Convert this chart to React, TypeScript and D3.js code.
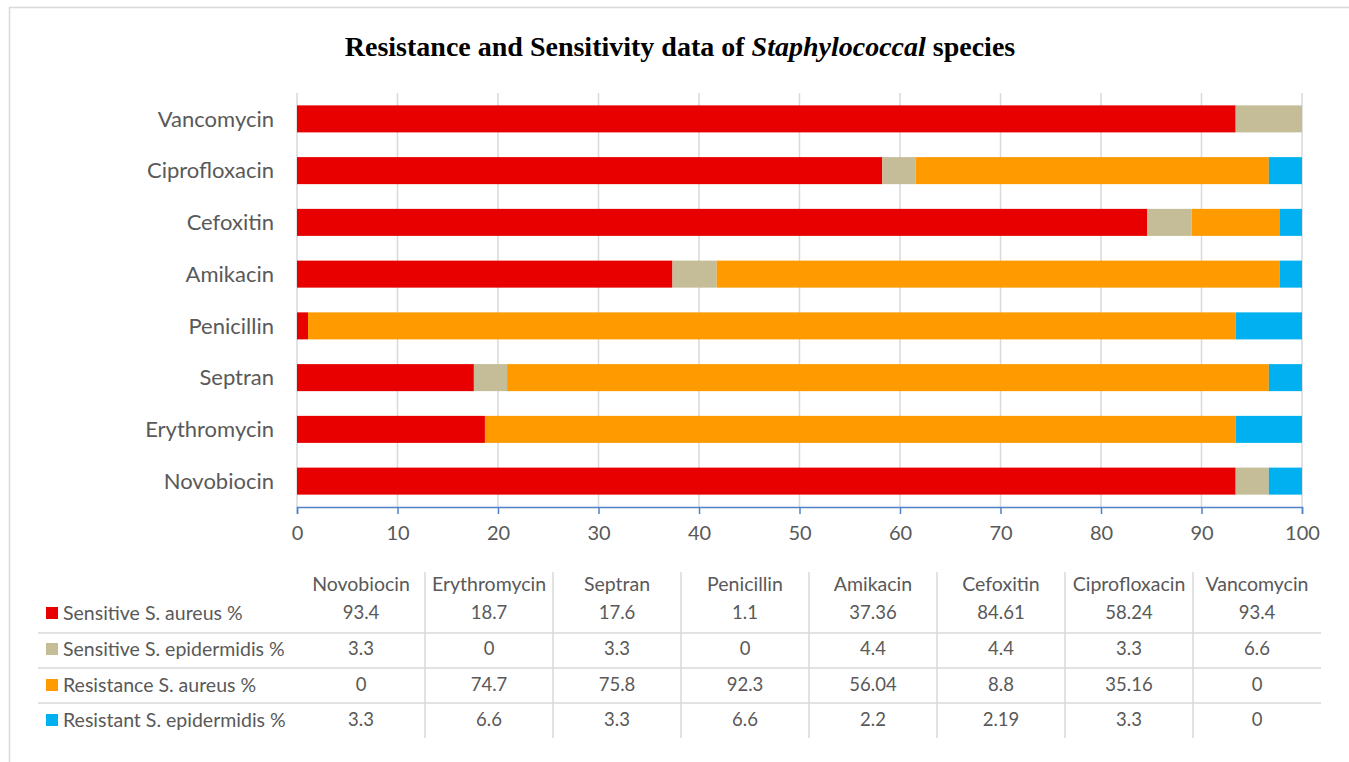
import React, { useEffect, useRef } from "react";
import * as d3 from "d3";

// drug names, in table order (bottom bar first)
const drugs = [
  "Novobiocin",
  "Erythromycin",
  "Septran",
  "Penicillin",
  "Amikacin",
  "Cefoxitin",
  "Ciprofloxacin",
  "Vancomycin",
];

const seriesNames = [
  "Sensitive S. aureus %",
  "Sensitive S. epidermidis %",
  "Resistance S. aureus %",
  "Resistant S. epidermidis %",
];
const seriesColors = ["#E80000", "#C4BD97", "#FF9A00", "#00B0F0"];

const sensitiveAureus = [93.4, 18.7, 17.6, 1.1, 37.36, 84.61, 58.24, 93.4];
const sensitiveEpidermidis = [3.3, 0, 3.3, 0, 4.4, 4.4, 3.3, 6.6];
const resistanceAureus = [0, 74.7, 75.8, 92.3, 56.04, 8.8, 35.16, 0];
const resistantEpidermidis = [3.3, 6.6, 3.3, 6.6, 2.2, 2.19, 3.3, 0];

const xTicks = [0, 10, 20, 30, 40, 50, 60, 70, 80, 90, 100];

const W = 1349;
const H = 762;
const textColor = "#595959";
const gridColor = "#D9D9D9";
const axisColor = "#4F81C7";
const font = "Lato, 'Open Sans', sans-serif";

export default function App() {
  const svgRef = useRef<SVGSVGElement>(null);

  useEffect(() => {
    const svg = d3.select(svgRef.current);
    svg.selectAll("*").remove();

    const values = [sensitiveAureus, sensitiveEpidermidis, resistanceAureus, resistantEpidermidis];
    const rows = drugs.map((d, i) => {
      const r: any = { drug: d };
      seriesNames.forEach((s, j) => (r[s] = values[j][i]));
      return r;
    });

    const x = d3.scaleLinear().domain([0, 100]).range([297, 1302]);
    const y = d3
      .scaleBand()
      .domain(drugs.slice().reverse())
      .range([93, 507])
      .paddingInner(0.478)
      .paddingOuter(0.239);

    // chart frame (top and left edges visible)
    svg
      .append("rect")
      .attr("x", 9.5)
      .attr("y", 7.5)
      .attr("width", W + 20)
      .attr("height", H + 20)
      .attr("fill", "white")
      .attr("stroke", "#D9D9D9")
      .attr("stroke-width", 1.5);

    // title
    const title = svg
      .append("text")
      .attr("x", 680)
      .attr("y", 56)
      .attr("text-anchor", "middle")
      .attr("font-family", "'Liberation Serif', 'Times New Roman', serif")
      .attr("font-weight", "bold")
      .attr("font-size", 28)
      .attr("fill", "#000");
    title.append("tspan").text("Resistance and Sensitivity data of ");
    title.append("tspan").attr("font-style", "italic").text("Staphylococcal");
    title.append("tspan").text(" species");

    // gridlines
    svg
      .append("g")
      .selectAll("line")
      .data(xTicks)
      .join("line")
      .attr("x1", (d) => x(d))
      .attr("x2", (d) => x(d))
      .attr("y1", 93)
      .attr("y2", 507)
      .attr("stroke", gridColor)
      .attr("stroke-width", 1.5);

    // stacked bars
    const stack = d3.stack<any>().keys(seriesNames)(rows);
    svg
      .append("g")
      .selectAll("g")
      .data(stack)
      .join("g")
      .attr("fill", (_d, i) => seriesColors[i])
      .selectAll("rect")
      .data((d) => d)
      .join("rect")
      .attr("x", (d) => x(d[0]))
      .attr("width", (d) => x(d[1]) - x(d[0]))
      .attr("y", (d) => y(d.data.drug)!)
      .attr("height", y.bandwidth());

    // category labels
    svg
      .append("g")
      .selectAll("text")
      .data(drugs)
      .join("text")
      .attr("x", 274)
      .attr("y", (d) => y(d)! + y.bandwidth() / 2)
      .attr("dy", "0.35em")
      .attr("text-anchor", "end")
      .attr("font-family", font)
      .attr("font-size", 22)
      .attr("fill", textColor)
      .text((d) => d);

    // x axis
    const xAxis = d3.axisBottom(x).tickValues(xTicks).tickSize(7).tickPadding(12);
    const ax = svg.append("g").attr("transform", "translate(0,507)").call(xAxis);
    ax.select(".domain").attr("stroke", axisColor).attr("stroke-width", 1.5);
    ax.selectAll(".tick line").attr("stroke", axisColor).attr("stroke-width", 1.5);
    ax.selectAll(".tick text")
      .attr("font-family", font)
      .attr("font-size", 20)
      .attr("fill", textColor);

    // data table
    const col = d3.scaleBand().domain(drugs).range([297, 1321]);
    const rowY = [613, 649, 685, 720];
    const table = svg.append("g");

    table
      .selectAll("line.h")
      .data([633, 668, 703])
      .join("line")
      .attr("class", "h")
      .attr("x1", 38)
      .attr("x2", 1321)
      .attr("y1", (d) => d)
      .attr("y2", (d) => d)
      .attr("stroke", gridColor)
      .attr("stroke-width", 1.5);

    table
      .selectAll("line.v")
      .data(drugs.slice(1))
      .join("line")
      .attr("class", "v")
      .attr("x1", (d) => col(d)!)
      .attr("x2", (d) => col(d)!)
      .attr("y1", 572)
      .attr("y2", 738)
      .attr("stroke", gridColor)
      .attr("stroke-width", 1.5);

    table
      .selectAll("text.head")
      .data(drugs)
      .join("text")
      .attr("class", "head")
      .attr("x", (d) => col(d)! + col.bandwidth() / 2)
      .attr("y", 584)
      .attr("dy", "0.35em")
      .attr("text-anchor", "middle")
      .attr("font-family", font)
      .attr("font-size", 19.5)
      .attr("fill", textColor)
      .text((d) => d);

    seriesNames.forEach((s, i) => {
      table
        .append("rect")
        .attr("x", 46)
        .attr("y", rowY[i] - 6)
        .attr("width", 12)
        .attr("height", 12)
        .attr("fill", seriesColors[i]);
      table
        .append("text")
        .attr("x", 63)
        .attr("y", rowY[i])
        .attr("dy", "0.35em")
        .attr("font-family", font)
        .attr("font-size", 19.5)
        .attr("fill", textColor)
        .text(s);
      table
        .selectAll(`text.v${i}`)
        .data(values[i])
        .join("text")
        .attr("class", `v${i}`)
        .attr("x", (_d, j) => col(drugs[j])! + col.bandwidth() / 2)
        .attr("y", rowY[i])
        .attr("dy", "0.35em")
        .attr("text-anchor", "middle")
        .attr("font-family", font)
        .attr("font-size", 18.5)
        .attr("fill", textColor)
        .text((d) => String(d));
    });
  }, []);

  return (
    <svg
      ref={svgRef}
      width={W}
      height={H}
      style={{ position: "absolute", left: 0, top: 0, background: "white" }}
    />
  );
}
